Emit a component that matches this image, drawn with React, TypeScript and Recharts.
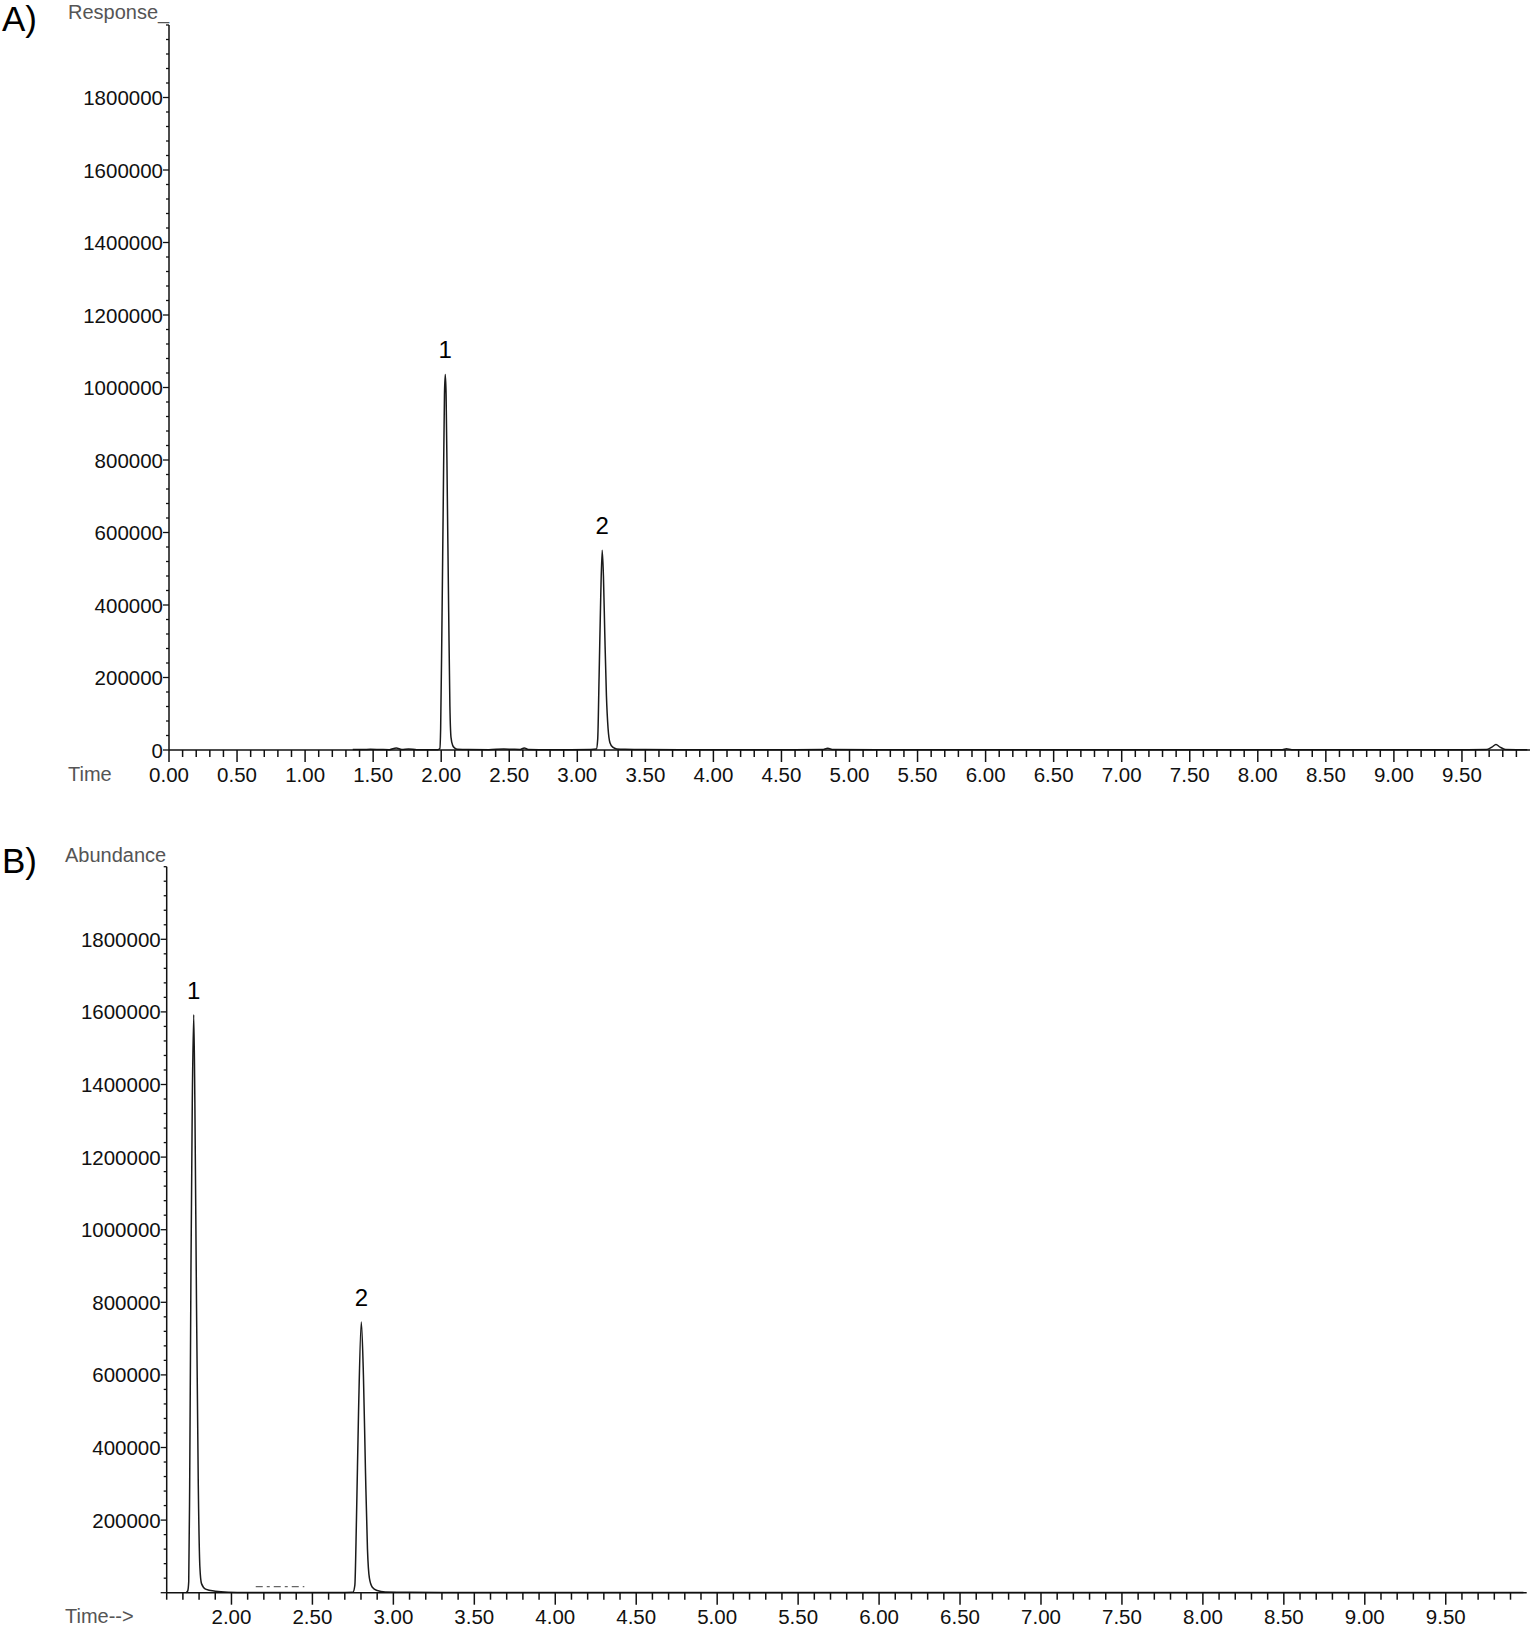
import React from 'react';
import { LineChart, Line, XAxis, YAxis, ReferenceDot } from 'recharts';

// A) retention time (min) and detector response
const timeA = [
  1.35, 1.42, 1.48, 1.55, 1.62, 1.67, 1.71, 1.76, 1.82, 1.9,
  1.975, 1.99, 1.996, 2.005, 2.015, 2.024, 2.03, 2.036, 2.045, 2.055,
  2.064, 2.072, 2.085, 2.1, 2.12, 2.2, 2.35, 2.46, 2.52, 2.58,
  2.61, 2.64, 2.75, 2.95, 3.1, 3.14, 3.15, 3.16, 3.172, 3.183,
  3.192, 3.202, 3.214, 3.226, 3.24, 3.26, 3.29, 3.35, 3.5, 3.8,
  4.2, 4.6, 4.8, 4.84, 4.88, 5.2, 6.0, 7.0, 7.8, 8.18,
  8.21, 8.25, 8.7, 9.3, 9.68, 9.72, 9.75, 9.78, 9.82, 9.9,
  9.98,
];
const responseA = [
  1500, 1200, 2000, 1500, 1000, 5500, 1500, 2500, 1000, 800,
  1000, 4000, 60000, 330000, 680000, 980000, 1036000, 980000, 700000, 380000,
  120000, 35000, 12000, 5000, 2000, 1200, 1000, 2500, 2000, 1500,
  5500, 1500, 1000, 800, 1200, 2500, 30000, 200000, 420000, 551000,
  480000, 320000, 150000, 60000, 20000, 8000, 3000, 1800, 1200, 1000,
  800, 900, 1500, 4500, 1500, 800, 700, 700, 700, 900,
  3500, 900, 700, 700, 1200, 8000, 15000, 8000, 1500, 1000,
  900,
];

// B) retention time (min) and abundance
const timeB = [
  1.72, 1.73, 1.736, 1.742, 1.75, 1.758, 1.767, 1.774, 1.784, 1.795,
  1.805, 1.815, 1.84, 1.9, 1.98, 2.1, 2.3, 2.5, 2.7, 2.75,
  2.762, 2.772, 2.785, 2.802, 2.815, 2.828, 2.84, 2.852, 2.87, 2.9,
  2.95, 3.1, 3.5, 4.0, 5.0, 6.0, 7.0, 8.0, 9.0, 9.98,
];
const abundanceB = [
  0, 5000, 30000, 300000, 900000, 1350000, 1592000, 1350000, 800000, 300000,
  70000, 25000, 10000, 4000, 1500, 800, 700, 700, 700, 1000,
  20000, 200000, 500000, 746000, 600000, 330000, 120000, 40000, 15000, 6000,
  2000, 900, 700, 600, 500, 500, 500, 500, 500, 500,
];
// broken dash-dot trace fragment in B
const dashTimeB = [2.15, 2.45];
const dashValueB = [16500, 16500];

const peakTimesA = [2.03, 3.183];
const peakValuesA = [1036000, 551000];
const peakTimesB = [1.767, 2.802];
const peakValuesB = [1592000, 746000];
const peakNames = ['1', '2'];

const majorXA = [0, 0.5, 1, 1.5, 2, 2.5, 3, 3.5, 4, 4.5, 5, 5.5, 6, 6.5, 7, 7.5, 8, 8.5, 9, 9.5];
const majorXB = [2, 2.5, 3, 3.5, 4, 4.5, 5, 5.5, 6, 6.5, 7, 7.5, 8, 8.5, 9, 9.5];
const majorY = [0, 200000, 400000, 600000, 800000, 1000000, 1200000, 1400000, 1600000, 1800000];

const steps = (from: number, to: number, step: number) => {
  const out: number[] = [];
  const n = Math.round((to - from) / step);
  for (let i = 0; i <= n; i++) out.push(Math.round((from + i * step) * 1000) / 1000);
  return out;
};
const minorXA = steps(0, 9.9, 0.1);
const minorXB = steps(1.6, 9.9, 0.1);
const minorY = steps(0, 2000000, 40000);

const FONT = '"Liberation Sans", Arial, sans-serif';
const has = (list: number[], v: number) => list.some((m) => Math.abs(m - v) < 1e-6);

const XTick = (props: any) => {
  const { x, y, payload, majors } = props;
  const major = has(majors, payload.value);
  return (
    <g>
      <line x1={x} y1={y} x2={x} y2={y + (major ? 12 : 7)} stroke="#111" strokeWidth={1.5} />
      {major && (
        <text x={x} y={y + 24} textAnchor="middle" dominantBaseline="central" fontSize={20.5} fontFamily={FONT} fill="#111">
          {payload.value.toFixed(2)}
        </text>
      )}
    </g>
  );
};

const YTick = (props: any) => {
  const { x, y, payload, showZero } = props;
  const v = payload.value;
  const major = has(majorY, v);
  const label = major && (v > 0 || showZero);
  return (
    <g>
      <line x1={x} y1={y} x2={x - (major ? 6 : 3)} y2={y} stroke="#111" strokeWidth={1.3} />
      {label && (
        <text x={x - 6} y={y} textAnchor="end" dominantBaseline="central" fontSize={20.5} fontFamily={FONT} fill="#111">
          {String(v)}
        </text>
      )}
    </g>
  );
};

const toRows = (ts: number[], vs: number[]) => ts.map((t, i) => ({ t, v: vs[i] }));

const textStyle = (left: number, top: number, size: number, color: string): React.CSSProperties => ({
  position: 'absolute',
  left,
  top,
  fontSize: size,
  lineHeight: `${size}px`,
  color,
  fontFamily: FONT,
  whiteSpace: 'nowrap',
});

const axisLine = { stroke: '#111', strokeWidth: 1.5 };
const peakLabel = (value: string) => ({ value, position: 'top' as const, offset: 16, fontSize: 24, fill: '#000', fontFamily: FONT });

const App: React.FC = () => {
  const dataA = toRows(timeA, responseA);
  const dataB = toRows(timeB, abundanceB);
  const dashB = toRows(dashTimeB, dashValueB);

  return (
    <div style={{ position: 'absolute', left: 0, top: 0, width: 1533, height: 1627, background: '#fff' }}>
      <div style={{ position: 'absolute', left: 0, top: 0 }}>
        <LineChart width={1533} height={800} margin={{ top: 25, right: 3, bottom: 10, left: 69 }}>
          <XAxis
            dataKey="t"
            type="number"
            domain={[0, 10]}
            ticks={minorXA}
            interval={0}
            tickSize={0}
            tickMargin={0}
            tickLine={false}
            axisLine={axisLine}
            height={40}
            tick={(p: any) => <XTick {...p} majors={majorXA} />}
          />
          <YAxis
            type="number"
            domain={[0, 2000000]}
            ticks={minorY}
            interval={0}
            tickSize={0}
            tickMargin={0}
            tickLine={false}
            axisLine={axisLine}
            width={100}
            tick={(p: any) => <YTick {...p} showZero />}
          />
          <Line data={dataA} dataKey="v" type="monotone" stroke="#1a1a1a" strokeWidth={1.5} dot={false} isAnimationActive={false} />
          {peakTimesA.map((t, i) => (
            <ReferenceDot key={`a${i}`} x={t} y={peakValuesA[i]} r={0} fill="none" stroke="none" label={peakLabel(peakNames[i])} />
          ))}
        </LineChart>
        <div style={textStyle(2, 1, 35, '#000')}>A)</div>
        <div style={textStyle(68, 2, 20, '#555')}>Response_</div>
        <div style={textStyle(68, 764, 20, '#555')}>Time</div>
      </div>

      <div style={{ position: 'absolute', left: 0, top: 820 }}>
        <LineChart width={1533} height={807} margin={{ top: 46.7, right: 6.3, bottom: 4.3, left: 66.7 }}>
          <XAxis
            dataKey="t"
            type="number"
            domain={[1.6, 10]}
            ticks={minorXB}
            interval={0}
            tickSize={0}
            tickMargin={0}
            tickLine={false}
            axisLine={axisLine}
            height={30}
            allowDataOverflow
            tick={(p: any) => <XTick {...p} majors={majorXB} />}
          />
          <YAxis
            type="number"
            domain={[0, 2000000]}
            ticks={minorY}
            interval={0}
            tickSize={0}
            tickMargin={0}
            tickLine={false}
            axisLine={axisLine}
            width={100}
            tick={(p: any) => <YTick {...p} showZero={false} />}
          />
          <Line data={dataB} dataKey="v" type="monotone" stroke="#1a1a1a" strokeWidth={1.5} dot={false} isAnimationActive={false} />
          <Line data={dashB} dataKey="v" type="linear" stroke="#666" strokeWidth={1.3} strokeDasharray="7 4 3 4" dot={false} isAnimationActive={false} />
          {peakTimesB.map((t, i) => (
            <ReferenceDot key={`b${i}`} x={t} y={peakValuesB[i]} r={0} fill="none" stroke="none" label={peakLabel(peakNames[i])} />
          ))}
        </LineChart>
        <div style={textStyle(2, 23, 35, '#000')}>B)</div>
        <div style={textStyle(65, 25, 20, '#555')}>Abundance</div>
        <div style={textStyle(65, 786, 20, '#555')}>Time--&gt;</div>
      </div>
    </div>
  );
};

export default App;
